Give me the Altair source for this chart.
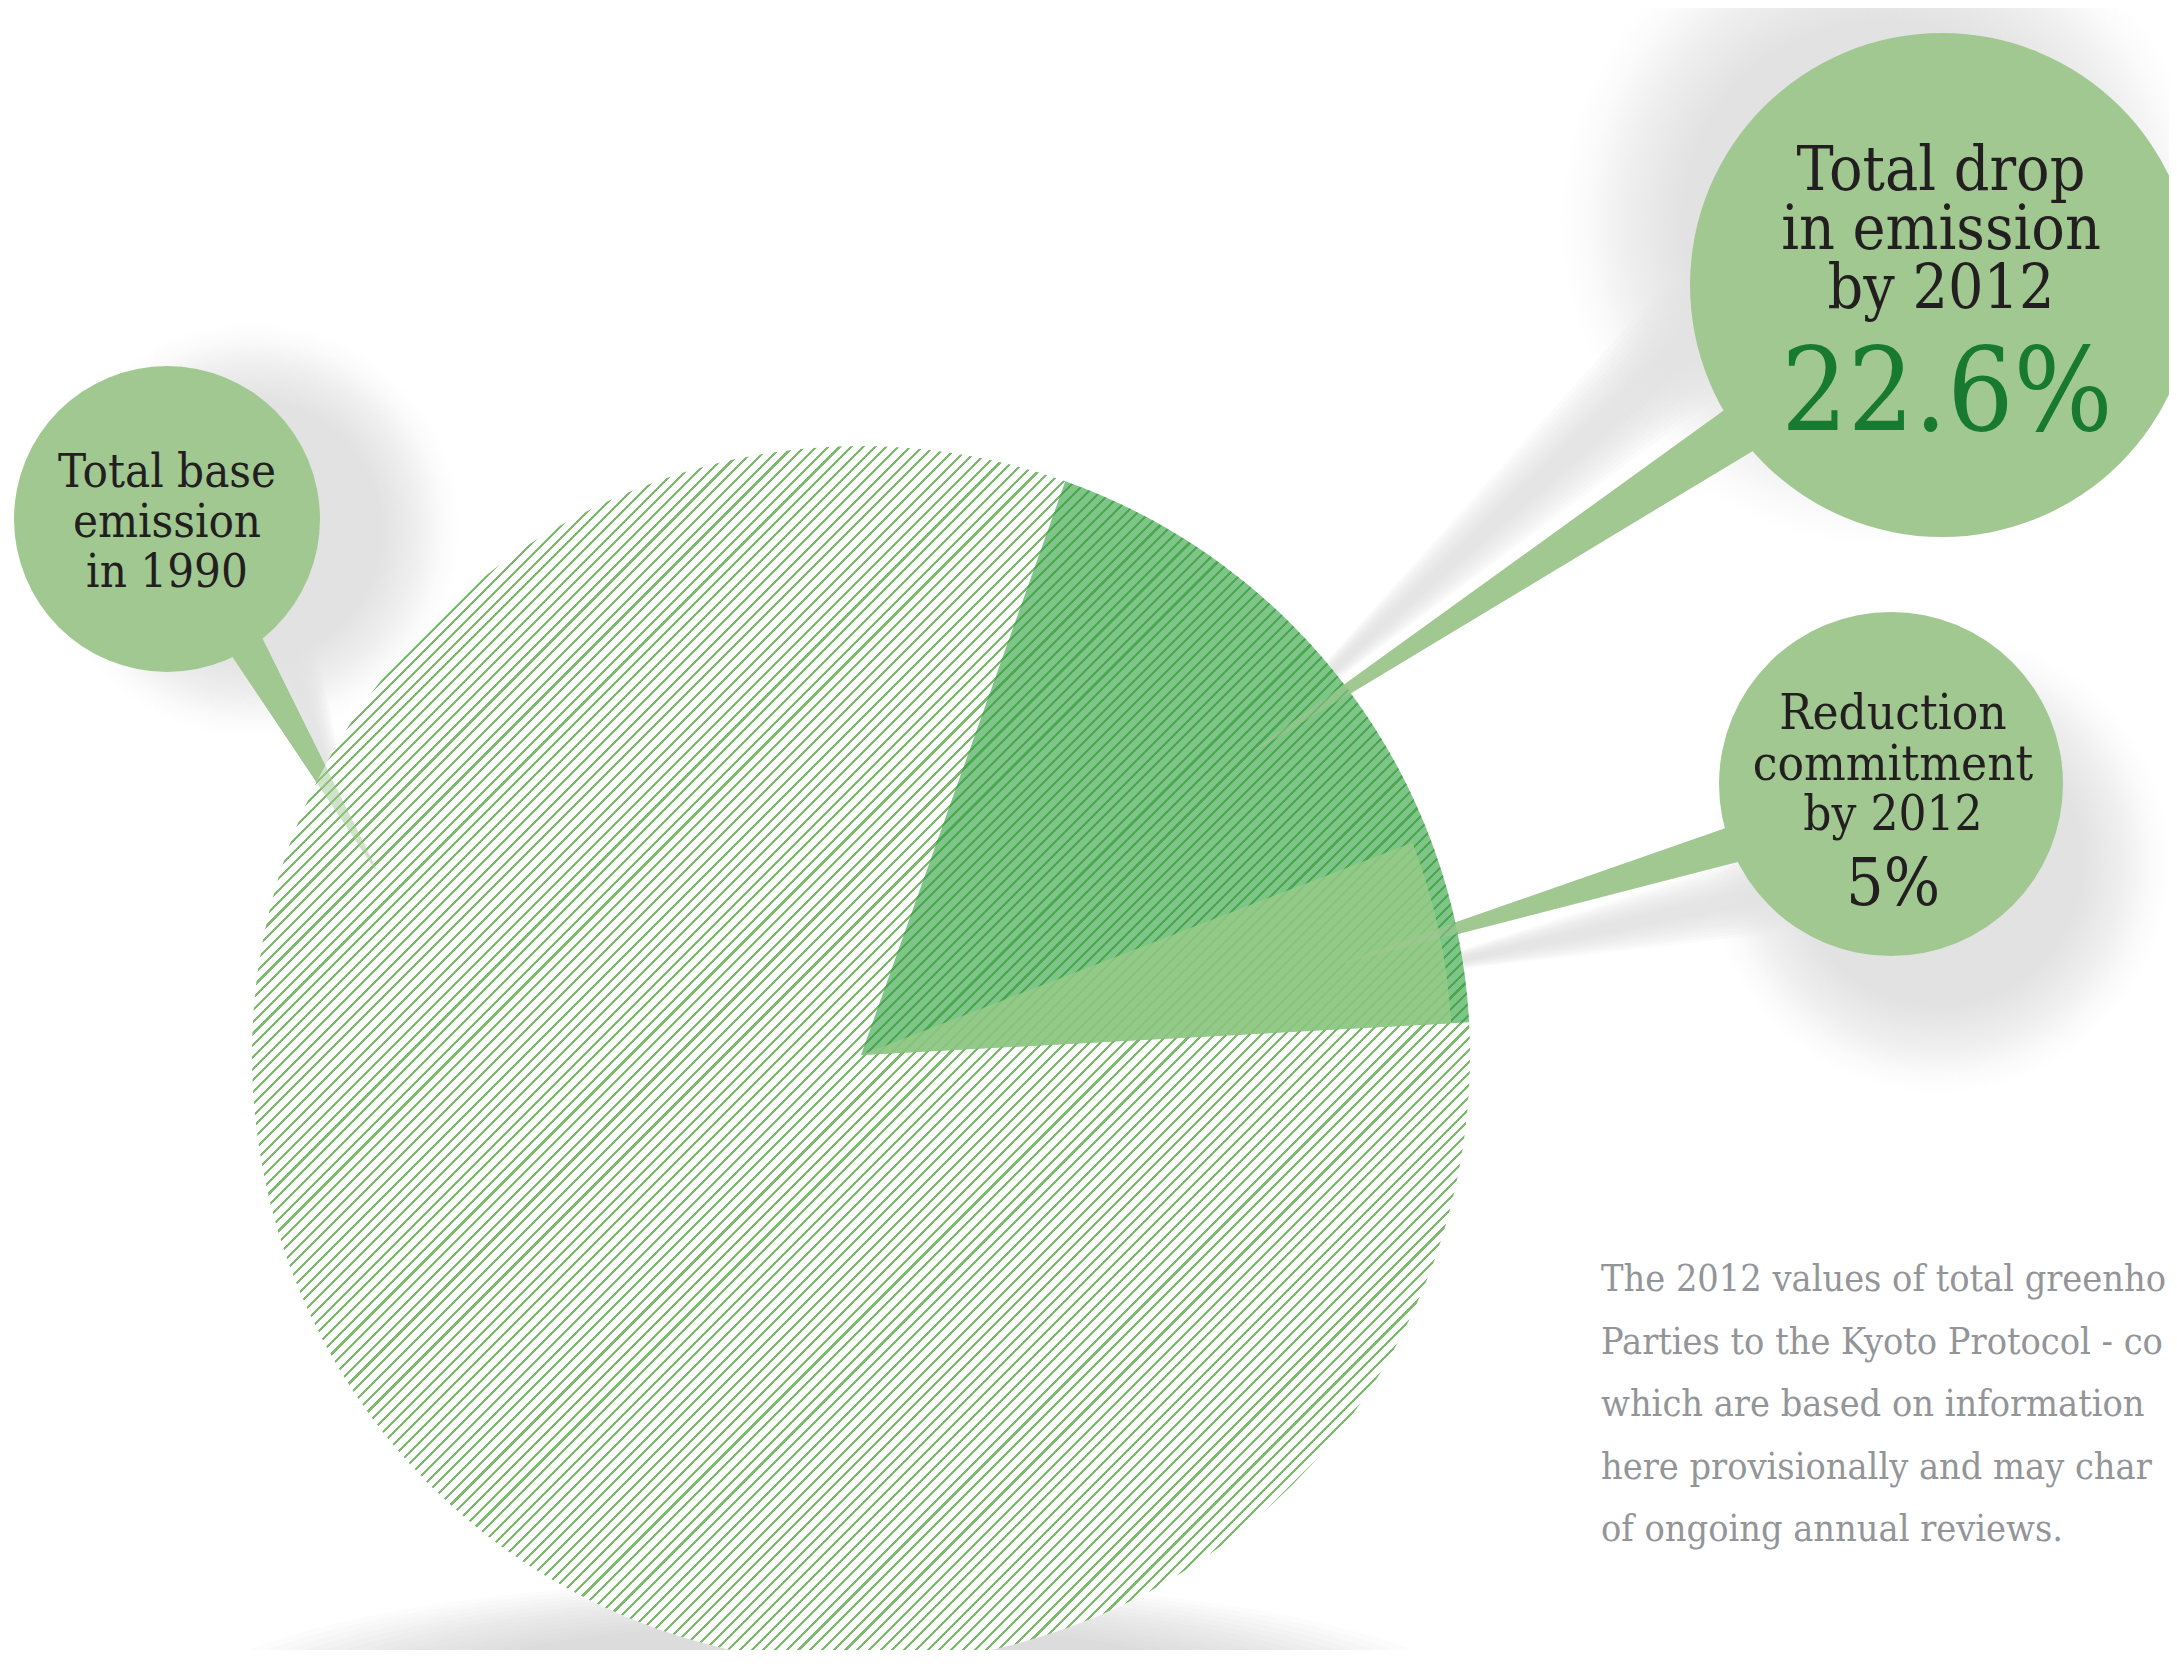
import math
import altair as alt
import pandas as pd

# ---------------- data ----------------
slice_names = ["Total base emission in 1990", "Total drop in emission by 2012", "Reduction commitment by 2012"]
# angular share of the pie as drawn in the graphic (percent of the full circle)
drop_share = 18.7
commit_share = 5.0
drop_label = "22.6%"
commit_label = "5%"

base_lines = ["Total base", "emission", "in 1990"]
drop_lines = ["Total drop", "in emission", "by 2012"]
commit_lines = ["Reduction", "commitment", "by 2012"]
# the note is cropped by the right edge of the graphic; only the visible part is kept
note_lines = [
    "The 2012 values of total greenho",
    "Parties to the Kyoto Protocol - co",
    "which are based on information",
    "here provisionally and may char",
    "of ongoing annual reviews.",
]

# ---------------- layout (pixel positions on the page) ----------------
W, H = 2161, 1642
X = alt.Scale(domain=[8, 8 + W], nice=False, zero=False)
Y = alt.Scale(domain=[8, 8 + H], reverse=True, nice=False, zero=False)
PIE_C = (861, 1055)
PIE_R = 609
COMMIT_R = 591
START = math.radians(19.6)
TH = alt.Scale(domain=[0, 100], range=[START, START + 2 * math.pi])

BUBBLES = {"base": (167, 519, 153), "drop": (1942, 285, 252), "commit": (1891, 784, 172)}
TAILS = {  # start (inside bubble) -> tip, widths
    "base": ((232, 621, 39), (375, 868, 2)),
    "drop": ((1762, 415, 52), (1255, 750, 2)),
    "commit": ((1758, 837, 38), (1345, 962, 2)),
}
SHADOWS = {"base": (252, 530, 208), "drop": (1885, 222, 325), "commit": (1938, 862, 232)}
SHADOW_TAILS = {
    "base": ((270, 600, 70), (350, 840, 16)),
    "drop": ((1700, 335, 120), (1335, 668, 22)),
    "commit": ((1760, 895, 80), (1450, 962, 16)),
}

FONT = "DejaVu Serif Condensed, DejaVu Serif, serif"
BUBBLE_GREEN = "#a2c892"
TEXT_DARK = "#231f20"

# ---------------- fills ----------------
def hatch(line_color, gap_color, period_px, line_px, length_px):
    pf, lf = period_px / length_px, line_px / length_px
    stops = []
    i = 0
    while i * pf < 1:
        a = i * pf
        b = min(a + lf, 1.0)
        stops += [alt.GradientStop(offset=a, color=gap_color),
                  alt.GradientStop(offset=a, color=line_color),
                  alt.GradientStop(offset=b, color=line_color),
                  alt.GradientStop(offset=b, color=gap_color)]
        i += 1
    return alt.LinearGradient(gradient="linear", stops=stops, x1=0, y1=0, x2=1, y2=1)

pie_hatch = hatch("#7cbb6c", "#ffffff", 8.3, 2.2, 2 * PIE_R * math.sqrt(2))

shadow_fill = alt.RadialGradient(
    gradient="radial", x1=0.5, y1=0.5, r1=0, x2=0.5, y2=0.5, r2=0.5,
    stops=[alt.GradientStop(offset=0, color="#e2e2e2"),
           alt.GradientStop(offset=0.62, color="#e2e2e2"),
           alt.GradientStop(offset=0.8, color="rgba(226,226,226,0.55)"),
           alt.GradientStop(offset=0.92, color="rgba(226,226,226,0.15)"),
           alt.GradientStop(offset=1, color="rgba(226,226,226,0)")])

# ---------------- tables ----------------
pie_df = pd.DataFrame({
    "name": slice_names,
    "t0": [0, 0, drop_share - commit_share],
    "t1": [100, drop_share, drop_share],
    "cx": [PIE_C[0]] * 3, "cy": [PIE_C[1]] * 3,
})

bub_df = pd.DataFrame([{"k": k, "cx": v[0], "cy": v[1], "s": (2 * v[2]) ** 2} for k, v in BUBBLES.items()])
sh_df = pd.DataFrame([{"k": k, "cx": v[0], "cy": v[1], "s": (2 * v[2]) ** 2} for k, v in SHADOWS.items()])

tail_rows = []
for k, (a, b) in TAILS.items():
    tail_rows += [{"id": k, "o": 0, "x": a[0], "y": a[1], "w": a[2]},
                  {"id": k, "o": 1, "x": b[0], "y": b[1], "w": b[2]}]
tail_df = pd.DataFrame(tail_rows)

stail_rows = []
for k, (a, b) in SHADOW_TAILS.items():
    for j in range(10):
        f = 1.0 - 0.09 * j
        stail_rows += [{"id": f"{k}{j}", "o": 0, "x": a[0], "y": a[1], "w": a[2] * f},
                       {"id": f"{k}{j}", "o": 1, "x": b[0], "y": b[1], "w": b[2] * f}]
stail_df = pd.DataFrame(stail_rows)

# soft ground shadow under the pie: concentric flat ellipses, each faint
ell_df = pd.DataFrame({"cx": [830] * 14, "cy": [1708] * 14,
                       "s": [(2 * (650 - 17 * j)) ** 2 for j in range(14)]})
ELLIPSE = "M-1,0A1,0.2,0,1,1,1,0A1,0.2,0,1,1,-1,0Z"

text_rows = []
for i, t in enumerate(base_lines):
    text_rows.append({"t": t, "x": 167, "y": 487 + 50 * i, "g": "base"})
for i, t in enumerate(drop_lines):
    text_rows.append({"t": t, "x": 1941, "y": 190 + 59 * i, "g": "drop"})
for i, t in enumerate(commit_lines):
    text_rows.append({"t": t, "x": 1893, "y": 729 + 50.5 * i, "g": "commit"})
text_df = pd.DataFrame(text_rows)
note_df = pd.DataFrame({"t": note_lines, "x": [1601] * 5, "y": [1291 + 62.5 * i for i in range(5)]})
val_df = pd.DataFrame({"t": [drop_label, commit_label], "x": [1947, 1893], "y": [430, 905]})

# ---------------- encodings ----------------
def xy(xf, yf):
    return dict(x=alt.X(xf, type="quantitative", scale=X, axis=None),
                y=alt.Y(yf, type="quantitative", scale=Y, axis=None))

def trail_enc():
    return dict(**xy("x", "y"), size=alt.Size("w:Q", scale=None), detail="id:N", order=alt.Order("o:Q"))

layers = []
# shadows
layers.append(alt.Chart(ell_df).mark_point(shape=ELLIPSE, filled=True, color="#bdbdbd", opacity=0.05, strokeWidth=0)
              .encode(**xy("cx", "cy"), size=alt.Size("s:Q", scale=None)))
layers.append(alt.Chart(stail_df).mark_trail(color="#dcdcdc", opacity=0.12).encode(**trail_enc()))
layers.append(alt.Chart(sh_df).mark_point(shape="circle", filled=True, fill=shadow_fill, opacity=1, strokeWidth=0)
              .encode(**xy("cx", "cy"), size=alt.Size("s:Q", scale=None)))
# tails (under the pie)
layers.append(alt.Chart(tail_df).mark_trail(color=BUBBLE_GREEN, opacity=1).encode(**trail_enc()))
# pie
pie_enc = dict(**xy("cx", "cy"), theta=alt.Theta("t0:Q", scale=TH), theta2=alt.Theta2("t1"))
layers.append(alt.Chart(pie_df).transform_filter(alt.datum.name == slice_names[0])
              .mark_arc(radius=PIE_R, fill=pie_hatch).encode(**pie_enc))
layers.append(alt.Chart(pie_df).transform_filter(alt.datum.name == slice_names[1])
              .mark_arc(radius=PIE_R, fill="#2a9d3a", opacity=0.6).encode(**pie_enc))
layers.append(alt.Chart(pie_df).transform_filter(alt.datum.name == slice_names[2])
              .mark_arc(radius=COMMIT_R, fill="#99ca8a", opacity=0.8).encode(**pie_enc))
# tails over the pie (translucent)
layers.append(alt.Chart(tail_df).mark_trail(color=BUBBLE_GREEN, opacity=0.5).encode(**trail_enc()))
# bubbles
layers.append(alt.Chart(bub_df).mark_point(shape="circle", filled=True, color=BUBBLE_GREEN, opacity=1, strokeWidth=0)
              .encode(**xy("cx", "cy"), size=alt.Size("s:Q", scale=None)))
# bubble texts
for g, fs in [("base", 47), ("drop", 62), ("commit", 49)]:
    layers.append(alt.Chart(text_df).transform_filter(alt.datum.g == g)
                  .mark_text(font=FONT, fontSize=fs, color=TEXT_DARK, align="center", baseline="alphabetic")
                  .encode(**xy("x", "y"), text="t:N"))
layers.append(alt.Chart(val_df.iloc[[0]]).mark_text(font=FONT, fontSize=116, color="#177a30", align="center", baseline="alphabetic")
              .encode(**xy("x", "y"), text="t:N"))
layers.append(alt.Chart(val_df.iloc[[1]]).mark_text(font=FONT, fontSize=66, color=TEXT_DARK, align="center", baseline="alphabetic")
              .encode(**xy("x", "y"), text="t:N"))
# note
layers.append(alt.Chart(note_df).mark_text(font=FONT, fontSize=37.5, color="#939598", align="left", baseline="alphabetic")
              .encode(**xy("x", "y"), text="t:N"))

chart = (alt.layer(*layers)
         .properties(width=W, height=H, padding=0, autosize=alt.AutoSizeParams(type="none"), background="white")
         .configure_view(strokeWidth=0))

chart.save("out.html", embed_options={"renderer": "svg", "actions": False})
